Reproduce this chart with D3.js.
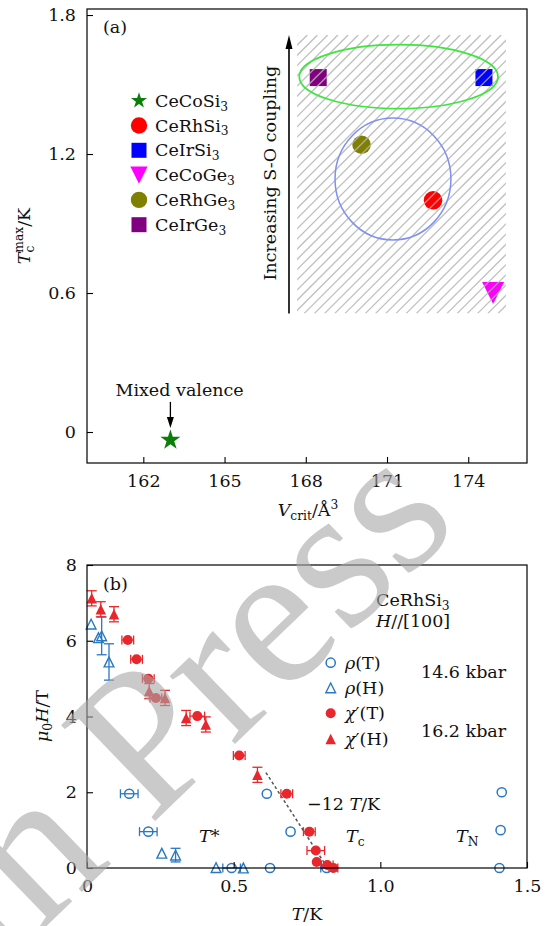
<!DOCTYPE html>
<html><head><meta charset="utf-8">
<script src="https://cdn.jsdelivr.net/npm/d3@7"></script>
<style>body{margin:0;background:#fff} svg{display:block} text{font-family:"DejaVu Serif",serif}</style>
</head><body><svg id="c" width="545" height="926"></svg>
<script>
// ---------- Panel (a) data ----------
const compounds = [["CeCoSi","3"],["CeRhSi","3"],["CeIrSi","3"],["CeCoGe","3"],["CeRhGe","3"],["CeIrGe","3"]];
const vcrit = [163.0, 172.7, 174.58, 174.92, 170.06, 168.46];
const tcmax = [-0.035, 1.0, 1.53, 0.6, 1.24, 1.53];
const colorsA = ["#0a7d0a", "#ff0000", "#0000ff", "#ff00ff", "#808000", "#800080"];
const xTicksA = [162, 165, 168, 171, 174];
const yTicksA = [0, 0.6, 1.2, 1.8];
const hatchX = [167.68, 175.39];
const hatchY = [0.512, 1.714];
const greenEllipse = [171.43, 1.534, 3.67, 0.138];
const blueCircle = [171.22, 1.092, 2.14, 0.263];

// ---------- Panel (b) data ----------
const rhoT = [[0.144,1.96,0.03],[0.209,0.96,0.03],[0.493,0.0,0.03],[0.624,0.0,0],[0.613,1.96,0],[0.694,0.96,0],[0.817,0.0,0.02],[1.414,2.0,0],[1.41,1.0,0],[1.406,0.0,0]];
const rhoH = [[0.014,6.44,0],[0.039,6.08,0],[0.05,6.13,0.5],[0.075,5.44,0.48],[0.255,0.39,0],[0.302,0.34,0.18],[0.44,0.01,0],[0.533,0.0,0]];
const chiT = [[0.139,6.02,0.02],[0.169,5.51,0.02],[0.209,5.0,0.02],[0.235,4.49,0.02],[0.376,4.01,0.025],[0.519,2.97,0.02],[0.681,1.96,0.02],[0.758,0.96,0.02],[0.780,0.46,0.03],[0.783,0.16,0],[0.819,0.08,0.02],[0.840,0.0,0.015]];
const chiH = [[0.016,7.12,0.2],[0.047,6.83,0.2],[0.092,6.70,0.2],[0.212,4.67,0.2],[0.266,4.49,0.2],[0.338,3.96,0.2],[0.405,3.79,0.2],[0.581,2.46,0.2]];
const fitLine = [[0.61,2.52],[0.82,0]];
const xTicksB = [0, 0.5, 1.0, 1.5];
const yTicksB = [0, 2, 4, 6, 8];

const BLUE = "#2a78c2", RED = "#e8262b", INK = "#111";
const svg = d3.select("#c");
const FS = 17.5;

function rich(sel, parts, fs) {
  let shift = 0;
  parts.forEach(p => {
    const t = sel.append("tspan").text(p.t);
    let target = p.s === "sub" ? fs * 0.22 : p.s === "sup" ? -fs * 0.42 : 0;
    if (p.y != null) target = p.y;
    t.attr("dy", target - shift); shift = target;
    if (p.s) t.attr("font-size", fs * 0.7);
    if (p.i) t.attr("font-style", "italic");
    if (p.dx) t.attr("dx", p.dx);
  });
}

const triUp = {draw(ctx, size){const r=Math.sqrt(size)/2; ctx.moveTo(0,-r); ctx.lineTo(r,r); ctx.lineTo(-r,r); ctx.closePath();}};
const triDown = {draw(ctx, size){const r=Math.sqrt(size)/2; ctx.moveTo(0,r); ctx.lineTo(r,-r); ctx.lineTo(-r,-r); ctx.closePath();}};
const sq = {draw(ctx, size){const r=Math.sqrt(size)/2; ctx.rect(-r,-r,2*r,2*r);}};

// ================= Panel (a) =================
const xA = d3.scaleLinear().domain([159.92, 176.17]).range([87, 527]);
const yA = d3.scaleLinear().domain([-0.1338, 1.826]).range([463, 9]);
const gA = svg.append("g");

const typesA = [d3.symbolStar, d3.symbolCircle, sq, triDown, d3.symbolCircle, sq];
const sizesA = [125, 270, 289, 484, 270, 289];
const legSizes = [80, 210, 225, 300, 210, 225];

gA.selectAll("path.mk").data(vcrit).join("path")
  .attr("transform", (d,i) => `translate(${xA(d)},${yA(tcmax[i])})`)
  .attr("d", (d,i) => d3.symbol(typesA[i], sizesA[i])())
  .attr("fill", (d,i) => colorsA[i]);

const defs = svg.append("defs");
defs.append("clipPath").attr("id","hclip").append("rect")
  .attr("x", xA(hatchX[0])).attr("y", yA(hatchY[1]))
  .attr("width", xA(hatchX[1]) - xA(hatchX[0])).attr("height", yA(hatchY[0]) - yA(hatchY[1]));
const hx0 = xA(hatchX[0]), hx1 = xA(hatchX[1]), hy0 = yA(hatchY[1]), hy1 = yA(hatchY[0]);
const hh = hy1 - hy0;
const hLines = d3.range(hx0 - hh, hx1 + 10, 10.2);
gA.append("g").attr("clip-path","url(#hclip)").selectAll("line").data(hLines).join("line")
  .attr("x1", d => d).attr("y1", hy1).attr("x2", d => d + hh).attr("y2", hy0)
  .attr("stroke", "#b4b4b4").attr("stroke-opacity", 0.85).attr("stroke-width", 1.3);

gA.append("ellipse").attr("cx", xA(greenEllipse[0])).attr("cy", yA(greenEllipse[1]))
  .attr("rx", xA(greenEllipse[0]+greenEllipse[2]) - xA(greenEllipse[0]))
  .attr("ry", yA(greenEllipse[1]-greenEllipse[3]) - yA(greenEllipse[1]))
  .attr("fill","none").attr("stroke","#3ce63c").attr("stroke-width",1.8);
gA.append("ellipse").attr("cx", xA(blueCircle[0])).attr("cy", yA(blueCircle[1]))
  .attr("rx", xA(blueCircle[0]+blueCircle[2]) - xA(blueCircle[0]))
  .attr("ry", yA(blueCircle[1]-blueCircle[3]) - yA(blueCircle[1]))
  .attr("fill","none").attr("stroke","#7f90f2").attr("stroke-width",1.5);

const ax = xA(167.38);
gA.append("line").attr("x1", ax).attr("x2", ax).attr("y1", yA(hatchY[0])).attr("y2", yA(hatchY[1]) + 10)
  .attr("stroke", "#000").attr("stroke-width", 1.6);
gA.append("path").attr("d", `M${ax},${yA(hatchY[1])} L${ax-3.5},${yA(hatchY[1])+14} L${ax+3.5},${yA(hatchY[1])+14} Z`).attr("fill","#000");
gA.append("text").attr("transform", `translate(${ax-13},${(yA(hatchY[0])+yA(hatchY[1]))/2-1}) rotate(-90)`)
  .attr("text-anchor","middle").attr("font-size", FS).attr("fill", INK).text("Increasing S-O coupling");

const mvx = xA(163.0);
gA.append("text").attr("x", xA(163.34)).attr("y", yA(0.155)).attr("text-anchor","middle").attr("font-size", FS).attr("fill", INK).text("Mixed valence");
gA.append("line").attr("x1", mvx).attr("x2", mvx).attr("y1", yA(0.13)).attr("y2", yA(0.05)).attr("stroke","#000").attr("stroke-width",1.3);
gA.append("path").attr("d", `M${mvx},${yA(0.017)} L${mvx-3.5},${yA(0.017)-11} L${mvx+3.5},${yA(0.017)-11} Z`).attr("fill","#000");

const legA = gA.append("g");
compounds.forEach((c, i) => {
  const y = 100.7 + 24.8 * i;
  legA.append("path").attr("transform", `translate(139,${y})`).attr("d", d3.symbol(typesA[i], legSizes[i])()).attr("fill", colorsA[i]);
  const t = legA.append("text").attr("x", 155).attr("y", y + 6).attr("font-size", FS).attr("fill", INK);
  rich(t, [{t: c[0]}, {t: c[1], s: "sub"}], FS);
});

gA.append("text").attr("x", 103).attr("y", 33).attr("font-size", FS).attr("fill", INK).text("(a)");

function styleAxis(g) {
  g.select(".domain").remove();
  g.selectAll("text").attr("font-size", FS).attr("fill", INK);
  g.selectAll("line").attr("stroke","#000").attr("stroke-width",1.1);
}
gA.append("g").attr("transform","translate(0,463)").call(d3.axisBottom(xA).tickValues(xTicksA).tickFormat(d3.format("d")).tickSizeInner(-6).tickSizeOuter(0).tickPadding(12)).call(styleAxis);
gA.append("g").attr("transform","translate(87,0)").call(d3.axisLeft(yA).tickValues(yTicksA).tickFormat(d => d === 0 ? "0" : d3.format(".1f")(d)).tickSizeInner(-6).tickSizeOuter(0).tickPadding(11)).call(styleAxis);
gA.append("rect").attr("x",87).attr("y",9).attr("width",440).attr("height",454).attr("fill","none").attr("stroke","#000").attr("stroke-width",1.2);

const xlabA = gA.append("text").attr("x", 308).attr("y", 516).attr("text-anchor","middle").attr("font-size", FS).attr("fill", INK);
rich(xlabA, [{t:"V", i:1}, {t:"crit", s:"sub"}, {t:"/Å", y:0}, {t:"3", s:"sup"}], FS);
const ylabA = gA.append("text").attr("transform","translate(30,236) rotate(-90)").attr("text-anchor","middle").attr("font-size", FS).attr("fill", INK);
rich(ylabA, [{t:"T", i:1}, {t:"c", s:"sub"}, {t:"max", s:"sup", dx:-7}, {t:"/K", y:0}], FS);

// ================= Panel (b) =================
const xB = d3.scaleLinear().domain([0, 1.5]).range([87, 527]);
const yB = d3.scaleLinear().domain([0, 8]).range([868, 565]);
const gB = svg.append("g");

gB.append("path").attr("d", d3.line().x(d=>xB(d[0])).y(d=>yB(d[1]))(fitLine))
  .attr("stroke","#555").attr("stroke-width",1.5).attr("stroke-dasharray","3,2.5").attr("fill","none");

function xErr(g, data, color) {
  data.filter(d => d[2] > 0).forEach(d => {
    const y = yB(d[1]), x0 = xB(d[0]-d[2]), x1 = xB(d[0]+d[2]);
    g.append("line").attr("x1",x0).attr("x2",x1).attr("y1",y).attr("y2",y).attr("stroke",color).attr("stroke-width",1.3);
    [x0,x1].forEach(x => g.append("line").attr("x1",x).attr("x2",x).attr("y1",y-4.5).attr("y2",y+4.5).attr("stroke",color).attr("stroke-width",1.3));
  });
}
function yErr(g, data, color) {
  data.filter(d => d[2] > 0).forEach(d => {
    const x = xB(d[0]), y0 = yB(d[1]-d[2]), y1 = yB(d[1]+d[2]);
    g.append("line").attr("x1",x).attr("x2",x).attr("y1",y0).attr("y2",y1).attr("stroke",color).attr("stroke-width",1.3);
    [y0,y1].forEach(y => g.append("line").attr("x1",x-5).attr("x2",x+5).attr("y1",y).attr("y2",y).attr("stroke",color).attr("stroke-width",1.3));
  });
}
const gD = gB.append("g");
xErr(gD, rhoT, BLUE); yErr(gD, rhoH, BLUE); xErr(gD, chiT, RED); yErr(gD, chiH, RED);

gD.selectAll("circle.rt").data(rhoT).join("circle").attr("cx",d=>xB(d[0])).attr("cy",d=>yB(d[1])).attr("r",4.6)
  .attr("fill","none").attr("stroke",BLUE).attr("stroke-width",1.5);
gD.selectAll("path.rh").data(rhoH).join("path").attr("transform",d=>`translate(${xB(d[0])},${yB(d[1])})`)
  .attr("d", d3.symbol(triUp, 95)()).attr("fill","none").attr("stroke",BLUE).attr("stroke-width",1.4);
gD.selectAll("circle.ct").data(chiT).join("circle").attr("cx",d=>xB(d[0])).attr("cy",d=>yB(d[1])).attr("r",5)
  .attr("fill",RED);
gD.selectAll("path.ch").data(chiH).join("path").attr("transform",d=>`translate(${xB(d[0])},${yB(d[1])})`)
  .attr("d", d3.symbol(triUp, 110)()).attr("fill",RED);

gB.append("text").attr("x",103).attr("y",590).attr("font-size",FS).attr("fill",INK).text("(b)");
const t1 = gB.append("text").attr("x",376).attr("y",606).attr("font-size",FS).attr("fill",INK);
rich(t1, [{t:"CeRhSi"},{t:"3",s:"sub"}], FS);
const t2 = gB.append("text").attr("x",376).attr("y",627).attr("font-size",FS).attr("fill",INK);
rich(t2, [{t:"H",i:1},{t:"//[100]"}], FS);
const legB = [
  {t:[{t:"ρ",i:1},{t:"(T)"}], kind:"oc"},
  {t:[{t:"ρ",i:1},{t:"(H)"}], kind:"ot"},
  {t:[{t:"χ",i:1},{t:"′(T)"}], kind:"fc"},
  {t:[{t:"χ",i:1},{t:"′(H)"}], kind:"ft"}];
const legRows = [662.7, 687.9, 713.3, 739.0];
legB.forEach((l, i) => {
  const y = legRows[i];
  if (l.kind === "oc") gB.append("circle").attr("cx",330.7).attr("cy",y).attr("r",4.6).attr("fill","none").attr("stroke",BLUE).attr("stroke-width",1.5);
  if (l.kind === "ot") gB.append("path").attr("transform",`translate(330.7,${y})`).attr("d",d3.symbol(triUp,95)()).attr("fill","none").attr("stroke",BLUE).attr("stroke-width",1.4);
  if (l.kind === "fc") gB.append("circle").attr("cx",330.7).attr("cy",y).attr("r",5).attr("fill",RED);
  if (l.kind === "ft") gB.append("path").attr("transform",`translate(330.7,${y})`).attr("d",d3.symbol(triUp,110)()).attr("fill",RED);
  const t = gB.append("text").attr("x",345).attr("y",y+6).attr("font-size",FS).attr("fill",INK);
  rich(t, l.t, FS);
});
gB.append("text").attr("x",421).attr("y",678).attr("font-size",FS).attr("fill",INK).text("14.6 kbar");
gB.append("text").attr("x",421).attr("y",737).attr("font-size",FS).attr("fill",INK).text("16.2 kbar");
const t3 = gB.append("text").attr("x",307).attr("y",810).attr("font-size",FS).attr("fill",INK);
rich(t3, [{t:"−12 "},{t:"T",i:1},{t:"/K"}], FS);
const t4 = gB.append("text").attr("x",199).attr("y",842).attr("font-size",FS).attr("fill",INK);
rich(t4, [{t:"T",i:1},{t:"*"}], FS);
const t5 = gB.append("text").attr("x",346).attr("y",842).attr("font-size",FS).attr("fill",INK);
rich(t5, [{t:"T",i:1},{t:"c",s:"sub"}], FS);
const t6 = gB.append("text").attr("x",456).attr("y",842).attr("font-size",FS).attr("fill",INK);
rich(t6, [{t:"T",i:1},{t:"N",s:"sub"}], FS);

gB.append("g").attr("transform","translate(0,868)").call(d3.axisBottom(xB).tickValues(xTicksB).tickFormat(d => d === 0 ? "0" : d3.format(".1f")(d)).tickSizeInner(-6).tickSizeOuter(0).tickPadding(12)).call(styleAxis);
gB.append("g").attr("transform","translate(87,0)").call(d3.axisLeft(yB).tickValues(yTicksB).tickFormat(d3.format("d")).tickSizeInner(-6).tickSizeOuter(0).tickPadding(10)).call(styleAxis);
gB.append("rect").attr("x",87).attr("y",565).attr("width",440).attr("height",303).attr("fill","none").attr("stroke","#000").attr("stroke-width",1.2);

const xlabB = gB.append("text").attr("x",307).attr("y",920).attr("text-anchor","middle").attr("font-size",FS).attr("fill",INK);
rich(xlabB, [{t:"T",i:1},{t:"/K"}], FS);
const ylabB = gB.append("text").attr("transform","translate(48,716) rotate(-90)").attr("text-anchor","middle").attr("font-size",FS).attr("fill",INK);
rich(ylabB, [{t:"μ",i:1},{t:"0",s:"sub"},{t:"H",i:1,y:0},{t:"/T"}], FS);

// watermark (journal overlay)
const wm = svg.append("g").attr("transform","translate(150,826) rotate(-44)").attr("opacity",0.6);
wm.append("text").attr("x",0).attr("y",0).attr("font-size",205).style("font-family","'Liberation Serif'").attr("fill","#a8a8a8").text("Press");
wm.append("text").attr("x",-51).attr("y",0).attr("text-anchor","end").attr("font-size",205).style("font-family","'Liberation Serif'").attr("fill","#a8a8a8").text("in");
</script></body></html>
